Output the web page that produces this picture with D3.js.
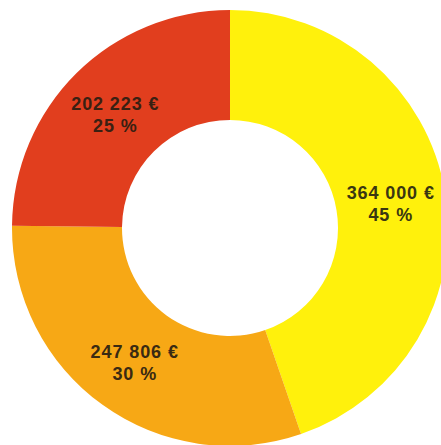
<!DOCTYPE html>
<html>
<head>
<meta charset="utf-8">
<script src="https://cdn.jsdelivr.net/npm/d3@7"></script>
<style>
  html, body { margin: 0; padding: 0; background: #fff; overflow: hidden; }
  svg { display: block; }
</style>
</head>
<body>
<div id="chart"></div>
<script>
// donut data
const categories = ["A", "B", "C"];
const amounts = [364000, 247806, 202223];
const colors = ["#fff10c", "#f7a815", "#e13e1e"];
const textColors = ["#3a3712", "#3a2a12", "#3a2012"];

let width = 441,
    height = 445;

let cx = 230, cy = 228;
let outerR = 218, innerR = 108;

const fmt = d3.formatLocale({ decimal: ",", thousands: " ", grouping: [3], currency: ["", " €"] }).format(",d");

let data = categories.map(function(c, i) { return { cat: c, value: amounts[i], i: i }; });
let total = d3.sum(amounts);

let pie = d3.pie()
  .sort(null)
  .value(function(d) { return d.value; });

let arc = d3.arc()
  .innerRadius(innerR)
  .outerRadius(outerR);

let svg = d3.select("#chart").append("svg")
    .attr("width", width)
    .attr("height", height);

let g = svg.append("g")
    .attr("transform", "translate(" + cx + "," + cy + ")");

let arcs = pie(data);

g.selectAll("path")
  .data(arcs)
  .enter().append("path")
    .attr("d", arc)
    .attr("fill", function(d) { return colors[d.data.i]; });

let labels = g.selectAll("text")
  .data(arcs)
  .enter().append("text")
    .attr("transform", function(d) { return "translate(" + arc.centroid(d) + ")"; })
    .attr("text-anchor", "middle")
    .style("font-family", "'Liberation Sans', Arial, sans-serif")
    .style("font-size", "18px")
    .style("font-weight", "bold")
    .style("letter-spacing", "0.9px")
    .attr("fill", function(d) { return textColors[d.data.i]; });

labels.append("tspan")
    .attr("x", 0)
    .attr("y", -2)
    .text(function(d) { return fmt(d.data.value) + " €"; });

labels.append("tspan")
    .attr("x", 0)
    .attr("y", 20)
    .text(function(d) { return Math.round(d.data.value / total * 100) + " %"; });
</script>
</body>
</html>
